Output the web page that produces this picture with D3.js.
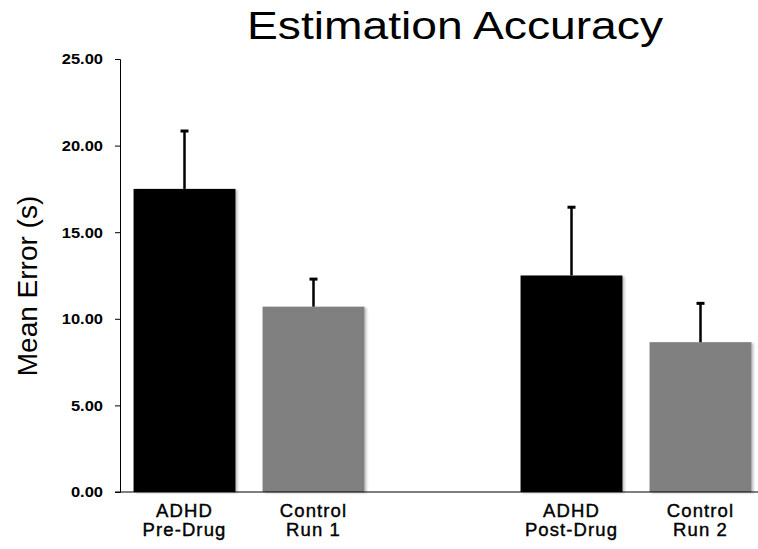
<!DOCTYPE html>
<html>
<head>
<meta charset="utf-8">
<script src="https://cdn.jsdelivr.net/npm/d3@7"></script>
<style>
  body { margin: 0; background: #fff; }
  svg { display: block; font-family: "Liberation Sans", Arial, sans-serif; }
</style>
</head>
<body>
<div id="chart"></div>
<script>
// slots on the x axis, the empty one splits the two pairs
var slots = ["pre", "run1", "gap", "post", "run2"];
var groups = ["pre", "run1", "post", "run2"];
var labels = [["ADHD", "Pre-Drug"], ["Control", "Run 1"], ["ADHD", "Post-Drug"], ["Control", "Run 2"]];
var means = [17.5, 10.7, 12.5, 8.65];
var errors = [3.4, 1.65, 4.0, 2.3];
var kinds = ["adhd", "control", "adhd", "control"];
var yTicks = [0, 5, 10, 15, 20, 25];

var width = 758, height = 549;
var colors = {adhd: "#000000", control: "#808080"};

var svg = d3.select("#chart").append("svg")
  .attr("width", width)
  .attr("height", height);

var defs = svg.append("defs");
var f = defs.append("filter").attr("id", "shadow")
  .attr("x", "-10%").attr("y", "-10%").attr("width", "130%").attr("height", "130%");
f.append("feDropShadow")
  .attr("dx", 2).attr("dy", 1).attr("stdDeviation", 1.2)
  .attr("flood-color", "#000").attr("flood-opacity", 0.25);

var x = d3.scaleBand()
  .domain(slots)
  .range([120, 765])
  .paddingInner(0.21)
  .paddingOuter(0.105);

var y = d3.scaleLinear()
  .domain([0, 25])
  .range([492, 59]);

var data = groups.map(function(g, i) {
  return {slot: g, lines: labels[i], mean: means[i], err: errors[i], kind: kinds[i]};
});

// bars
svg.selectAll("rect.bar")
  .data(data)
  .enter().append("rect")
  .attr("class", "bar")
  .attr("x", function(d) { return x(d.slot); })
  .attr("y", function(d) { return y(d.mean); })
  .attr("width", x.bandwidth())
  .attr("height", function(d) { return y(0) - y(d.mean); })
  .attr("fill", function(d) { return colors[d.kind]; })
  .attr("filter", "url(#shadow)");

// error bars (upper only)
var eb = svg.selectAll("g.err")
  .data(data)
  .enter().append("g")
  .attr("class", "err");
eb.append("line")
  .attr("x1", function(d) { return x(d.slot) + x.bandwidth() / 2; })
  .attr("x2", function(d) { return x(d.slot) + x.bandwidth() / 2; })
  .attr("y1", function(d) { return y(d.mean); })
  .attr("y2", function(d) { return y(d.mean + d.err); })
  .attr("stroke", "#000")
  .attr("stroke-width", 2.5);
eb.append("line")
  .attr("x1", function(d) { return x(d.slot) + x.bandwidth() / 2 - 4; })
  .attr("x2", function(d) { return x(d.slot) + x.bandwidth() / 2 + 4; })
  .attr("y1", function(d) { return y(d.mean + d.err) + 1; })
  .attr("y2", function(d) { return y(d.mean + d.err) + 1; })
  .attr("stroke", "#000")
  .attr("stroke-width", 3);

// y axis
var yAxis = svg.append("g")
  .attr("transform", "translate(120,0)")
  .call(d3.axisLeft(y).tickValues(yTicks).tickFormat(d3.format(".2f")).tickSizeOuter(0).tickSize(5).tickPadding(17));
yAxis.select(".domain").attr("stroke", "#000");
yAxis.selectAll(".tick line").attr("stroke", "#000");
yAxis.selectAll(".tick text")
  .attr("x", null)
  .attr("transform", "translate(-17,0) scale(1.1,1)")
  .attr("font-size", 15)
  .attr("font-weight", "bold")
  .attr("fill", "#000")
  .attr("font-family", "Liberation Sans, Arial, sans-serif");

// baseline
svg.append("line")
  .attr("x1", 115).attr("x2", width)
  .attr("y1", y(0)).attr("y2", y(0))
  .attr("stroke", "#000");

// category labels
var lab = svg.selectAll("text.cat")
  .data(data)
  .enter().append("text")
  .attr("class", "cat")
  .attr("text-anchor", "middle")
  .attr("font-size", 18.5)
  .attr("letter-spacing", 1.1)
  .attr("fill", "#000")
  .attr("stroke", "#000")
  .attr("stroke-width", 0.4);
lab.append("tspan")
  .attr("x", function(d) { return x(d.slot) + x.bandwidth() / 2; })
  .attr("y", 517)
  .text(function(d) { return d.lines[0]; });
lab.append("tspan")
  .attr("x", function(d) { return x(d.slot) + x.bandwidth() / 2; })
  .attr("y", 536)
  .text(function(d) { return d.lines[1]; });

// title
svg.append("text")
  .attr("x", 455)
  .attr("y", 39)
  .attr("text-anchor", "middle")
  .attr("font-size", 38)
  .attr("textLength", 416)
  .attr("lengthAdjust", "spacingAndGlyphs")
  .text("Estimation Accuracy");

// y label
svg.append("text")
  .attr("transform", "translate(37,286) rotate(-90)")
  .attr("text-anchor", "middle")
  .attr("font-size", 28)
  .text("Mean Error (s)");
</script>
</body>
</html>
